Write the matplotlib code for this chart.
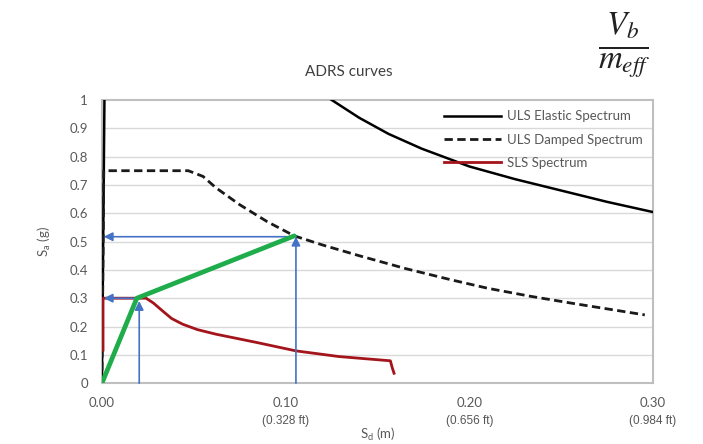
import matplotlib
matplotlib.use("Agg")
import matplotlib.pyplot as plt

plt.rcParams['font.family'] = ['Lato', 'DejaVu Sans']
plt.rcParams['mathtext.fontset'] = 'custom'
plt.rcParams['mathtext.rm'] = 'Lato'

# ULS elastic spectrum (Sd in m, Sa in g)
elastic_sd = [0.0, 0.0015, 0.101, 0.125, 0.140, 0.156, 0.174, 0.200, 0.225, 0.250, 0.275, 0.300]
elastic_sa = [0.0, 1.10, 1.10, 1.00, 0.937, 0.88, 0.828, 0.765, 0.72, 0.68, 0.64, 0.604]

# ULS damped spectrum
damped_sd = [0.0, 0.001, 0.047, 0.055, 0.062, 0.075, 0.090, 0.1047, 0.120, 0.140, 0.165, 0.190, 0.210, 0.233, 0.256, 0.2955]
damped_sa = [0.0, 0.75, 0.75, 0.73, 0.69, 0.63, 0.57, 0.52, 0.488, 0.45, 0.405, 0.365, 0.335, 0.307, 0.282, 0.241]

# SLS spectrum
sls_sd = [0.0006, 0.0006, 0.024, 0.028, 0.033, 0.038, 0.044, 0.052, 0.062, 0.084, 0.1056, 0.129, 0.157, 0.158, 0.159]
sls_sa = [0.117, 0.30, 0.30, 0.283, 0.255, 0.228, 0.208, 0.189, 0.173, 0.144, 0.114, 0.094, 0.079, 0.055, 0.035]

# capacity curve (bilinear)
cap_sd = [0.0, 0.019, 0.1047]
cap_sa = [0.0, 0.30, 0.52]

# blue arrows: (start, end)
arrows = [
    ((0.0203, 0.0), (0.0203, 0.29)),
    ((0.019, 0.30), (0.001, 0.30)),
    ((0.1056, 0.0), (0.1056, 0.517)),
    ((0.1056, 0.517), (0.001, 0.517)),
]

x_ticks = [0.0, 0.10, 0.20, 0.30]
x_tick_labels = ['0.00', '0.10', '0.20', '0.30']
ft_labels = ['(0.328 ft)', '(0.656 ft)', '(0.984 ft)']
y_ticks = [0, 0.1, 0.2, 0.3, 0.4, 0.5, 0.6, 0.7, 0.8, 0.9, 1]
y_tick_labels = ['0', '0.1', '0.2', '0.3', '0.4', '0.5', '0.6', '0.7', '0.8', '0.9', '1']

fig = plt.figure(figsize=(7.03, 4.44), dpi=100)
ax = fig.add_axes([0.145, 0.137, 0.784, 0.638])

for y in y_ticks[1:-1]:
    ax.axhline(y, color='#d9d9d9', lw=1.0, zorder=0)

blue = '#4472c4'
for (x0, y0), (x1, y1) in arrows:
    ax.annotate('', xy=(x1, y1), xytext=(x0, y0),
                arrowprops=dict(arrowstyle='-|>', color=blue, lw=1.2,
                                mutation_scale=13, shrinkA=0, shrinkB=0),
                zorder=4)

ax.plot(elastic_sd, elastic_sa, color='black', lw=1.8, label='ULS Elastic Spectrum', zorder=3)
ax.plot(damped_sd, damped_sa, color='#1a1a1a', lw=2.0, dashes=(3, 1.6), label='ULS Damped Spectrum', zorder=3)
ax.plot(sls_sd, sls_sa, color='#a3141b', lw=2.0, label='SLS Spectrum', zorder=3)
ax.plot(cap_sd, cap_sa, color='#1fad4b', lw=3.4, solid_capstyle='round', zorder=5)

ax.set_xlim(0, 0.30)
ax.set_ylim(0, 1)
ax.set_xticks(x_ticks)
ax.set_xticklabels(x_tick_labels)
ax.set_yticks(y_ticks)
ax.set_yticklabels(y_tick_labels)
ax.tick_params(length=0, colors='#595959', labelsize=9.5)
ax.tick_params(axis='x', pad=10)
ax.tick_params(axis='y', pad=10)
for s in ax.spines.values():
    s.set_color('#bfbfbf')
    s.set_linewidth(1.5)

for x, lab in zip(x_ticks[1:], ft_labels):
    ax.annotate(lab, xy=(x, 0), xytext=(0, -27), textcoords='offset points',
                ha='center', va='center', fontsize=8.5, color='#555555',
                family='Liberation Sans')

ax.set_xlabel(r'S$_\mathregular{d}$ (m)', color='#595959', fontsize=9.5, labelpad=12)
ax.set_ylabel(r'S$_\mathregular{a}$ (g)', color='#595959', fontsize=9.5, labelpad=12)

leg = ax.legend(loc='upper right', bbox_to_anchor=(1.0, 1.0), frameon=False,
                fontsize=9.5, handlelength=4.3, labelspacing=0.85, handletextpad=0.45,
                borderaxespad=0.4)
for t in leg.get_texts():
    t.set_color('#595959')

fig.text(349 / 703, 1 - 72 / 444, 'ADRS curves', ha='center', va='center',
         fontsize=11, color='#404040')
fig.text(624 / 703, 1 - 46 / 444, r'$\frac{V_b}{m_{eff}}$', ha='center', va='center',
         fontsize=34, math_fontfamily='stix', color='#222222')

fig.savefig('out.png', dpi=100)
